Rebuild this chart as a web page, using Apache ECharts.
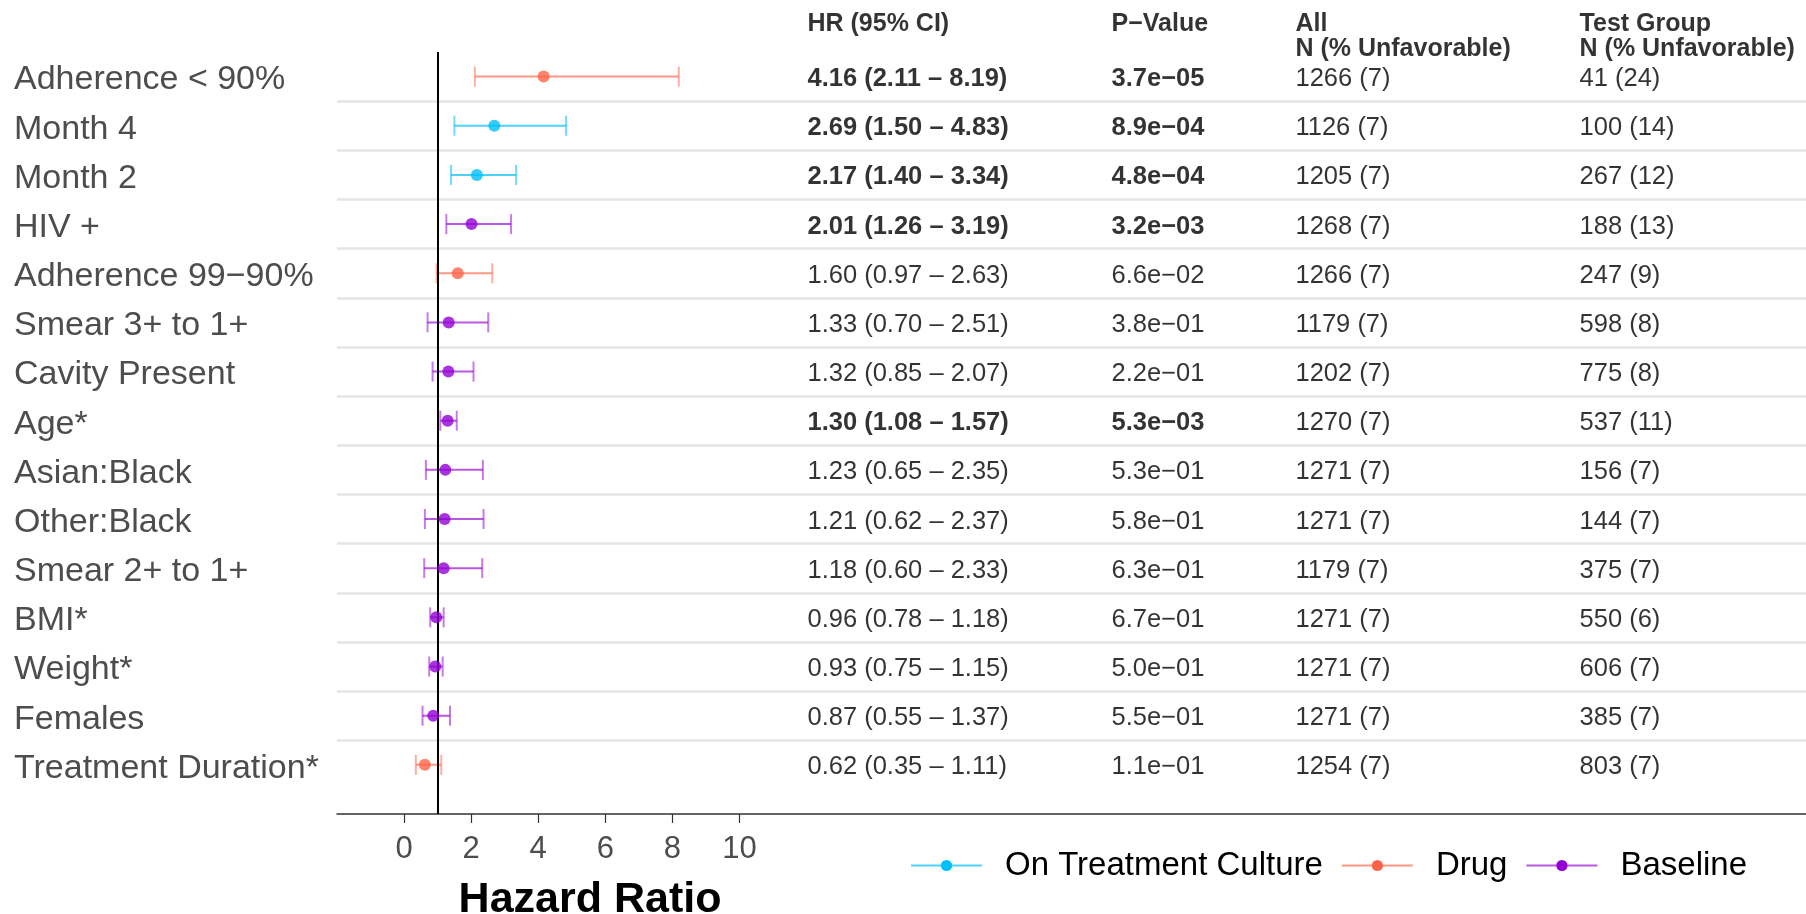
<!DOCTYPE html>
<html>
<head>
<meta charset="utf-8">
<script src="https://cdn.jsdelivr.net/npm/echarts@6/dist/echarts.min.js"></script>
<style>
  html, body { margin: 0; padding: 0; background: #fff; }
  #chart { width: 1806px; height: 914px; }
</style>
</head>
<body>
<div id="chart"></div>
<script>
// Forest plot rows, top to bottom
const rowLabels = ['Adherence < 90%', 'Month 4', 'Month 2', 'HIV +', 'Adherence 99\u221290%',
  'Smear 3+ to 1+', 'Cavity Present', 'Age*', 'Asian:Black', 'Other:Black',
  'Smear 2+ to 1+', 'BMI*', 'Weight*', 'Females', 'Treatment Duration*'];
const rowGroups = ['Drug', 'On Treatment Culture', 'On Treatment Culture', 'Baseline', 'Drug',
  'Baseline', 'Baseline', 'Baseline', 'Baseline', 'Baseline',
  'Baseline', 'Baseline', 'Baseline', 'Baseline', 'Drug'];
const hazardRatio = [4.16, 2.69, 2.17, 2.01, 1.60, 1.33, 1.32, 1.30, 1.23, 1.21, 1.18, 0.96, 0.93, 0.87, 0.62];
const ciLower     = [2.11, 1.50, 1.40, 1.26, 0.97, 0.70, 0.85, 1.08, 0.65, 0.62, 0.60, 0.78, 0.75, 0.55, 0.35];
const ciUpper     = [8.19, 4.83, 3.34, 3.19, 2.63, 2.51, 2.07, 1.57, 2.35, 2.37, 2.33, 1.18, 1.15, 1.37, 1.11];
const pValues = ['3.7e\u221205', '8.9e\u221204', '4.8e\u221204', '3.2e\u221203', '6.6e\u221202',
  '3.8e\u221201', '2.2e\u221201', '5.3e\u221203', '5.3e\u221201', '5.8e\u221201',
  '6.3e\u221201', '6.7e\u221201', '5.0e\u221201', '5.5e\u221201', '1.1e\u221201'];
const nAll = ['1266 (7)', '1126 (7)', '1205 (7)', '1268 (7)', '1266 (7)', '1179 (7)', '1202 (7)', '1270 (7)',
  '1271 (7)', '1271 (7)', '1179 (7)', '1271 (7)', '1271 (7)', '1271 (7)', '1254 (7)'];
const nTestGroup = ['41 (24)', '100 (14)', '267 (12)', '188 (13)', '247 (9)', '598 (8)', '775 (8)', '537 (11)',
  '156 (7)', '144 (7)', '375 (7)', '550 (6)', '606 (7)', '385 (7)', '803 (7)'];
const groupNames = ['On Treatment Culture', 'Drug', 'Baseline'];
const xTicks = [0, 2, 4, 6, 8, 10];
const tableHeaders = ['HR (95% CI)', 'P\u2212Value', 'All\nN (% Unfavorable)', 'Test Group\nN (% Unfavorable)'];

// Styling
const FONT = '"Liberation Sans", Arial, Helvetica, sans-serif';
const groupStyle = {
  'On Treatment Culture': { dot: '#00BFFF', line: 'rgba(0,191,255,0.7)' },
  'Drug':                 { dot: '#FF6347', line: 'rgba(255,99,71,0.65)' },
  'Baseline':             { dot: '#9400D3', line: 'rgba(148,0,211,0.65)' }
};
// Horizontal placement of the table columns, in percent of the panel width
const tableColumnPos = [32.06, 52.76, 65.28, 84.62];

const nRows = rowLabels.length;
const rowY = i => nRows - i;
const pNum = s => parseFloat(s.replace('\u2212', '-'));
const fmt = v => v.toFixed(2);

const hrText = hazardRatio.map((v, i) => `${fmt(v)} (${fmt(ciLower[i])} \u2013 ${fmt(ciUpper[i])})`);
const tableColumns = [hrText, pValues, nAll, nTestGroup];
const boldCols = [true, true, false, false];

const series = [];

// Row separators and the reference line at HR = 1
series.push({
  type: 'line', data: [], z: 1, silent: true,
  markLine: {
    silent: true, symbol: 'none', animation: false,
    label: { show: false },
    lineStyle: { color: '#e5e5e5', width: 2.5, type: 'solid' },
    data: rowLabels.slice(1).map((_, k) => ({ yAxis: k + 1.5 }))
  }
});
series.push({
  type: 'line', data: [], z: 3, silent: true,
  markLine: {
    silent: true, symbol: 'none', animation: false,
    label: { show: false },
    lineStyle: { color: '#000', width: 2, type: 'solid' },
    data: [{ xAxis: 1 }]
  }
});

groupNames.forEach(g => {
  const idx = rowGroups.map((r, i) => r === g ? i : -1).filter(i => i >= 0);
  const st = groupStyle[g];
  // confidence-interval segments
  const seg = [];
  idx.forEach(i => { seg.push([ciLower[i], rowY(i)], [ciUpper[i], rowY(i)], '-'); });
  series.push({
    name: g, type: 'line', data: seg, connectNulls: false,
    showSymbol: false, symbol: 'circle', z: 4,
    lineStyle: { color: st.line, width: 2 },
    itemStyle: { color: st.dot },
    emphasis: { disabled: true }
  });
  // whisker caps
  const caps = [];
  idx.forEach(i => { caps.push([ciLower[i], rowY(i)], [ciUpper[i], rowY(i)]); });
  series.push({
    name: g + ' caps', type: 'scatter', data: caps, symbol: 'rect', symbolSize: [2, 20],
    itemStyle: { color: st.line }, z: 4, silent: true
  });
  // point estimates
  series.push({
    name: g + ' estimate', type: 'scatter', data: idx.map(i => [hazardRatio[i], rowY(i)]),
    symbol: 'circle', symbolSize: 12, itemStyle: { color: st.dot }, z: 5, silent: true
  });
});

// Table columns
tableColumns.forEach((col, c) => {
  series.push({
    type: 'scatter', xAxisIndex: 1, silent: true, symbolSize: 1,
    itemStyle: { color: 'transparent' }, z: 6, clip: false,
    data: col.map((_, i) => ({
      value: [tableColumnPos[c], rowY(i)],
      label: { fontWeight: (boldCols[c] && pNum(pValues[i]) < 0.05) ? 'bold' : 'normal' }
    })),
    label: {
      show: true, position: [0, 0], align: 'left', verticalAlign: 'middle', offset: [0, 3],
      fontFamily: FONT, fontSize: 25.5, color: '#000',
      formatter: p => col[p.dataIndex]
    }
  });
});

// Table headers
series.push({
  type: 'scatter', xAxisIndex: 1, silent: true, symbolSize: 1,
  itemStyle: { color: 'transparent' }, z: 6, clip: false,
  data: tableHeaders.map((_, c) => [tableColumnPos[c], nRows + 0.5]),
  label: {
    show: true, position: [0, 0], align: 'left', verticalAlign: 'top',
    offset: [0, -40], lineHeight: 25,
    fontFamily: FONT, fontSize: 25, fontWeight: 'bold', color: '#000',
    formatter: p => tableHeaders[p.dataIndex]
  }
});

const chart = echarts.init(document.getElementById('chart'), null, { renderer: 'canvas' });
chart.setOption({
  animation: false,
  backgroundColor: '#fff',
  textStyle: { fontFamily: FONT },
  grid: { left: 337, right: 0, top: 52, bottom: 100, containLabel: false, outerBoundsMode: 'none' },
  legend: {
    data: groupNames, left: 910, top: 849, padding: 0,
    itemWidth: 71, itemHeight: 14, itemGap: 18,
    selectedMode: false,
    textStyle: { fontFamily: FONT, fontSize: 33, color: '#000', padding: [0, 0, 0, 18] }
  },
  xAxis: [
    {
      type: 'value', min: -2, max: 41.8, interval: 2,
      axisLine: { show: true, lineStyle: { color: '#333', width: 1.5 } },
      axisTick: { show: true, customValues: xTicks, length: 9, lineStyle: { color: '#333', width: 1.2 } },
      axisLabel: { customValues: xTicks, fontFamily: FONT, fontSize: 31, color: '#4d4d4d', margin: 20 },
      splitLine: { show: false }
    },
    { type: 'value', min: 0, max: 100, show: false, gridIndex: 0 }
  ],
  yAxis: {
    type: 'value', min: 0, max: nRows + 0.5,
    axisLine: { show: false }, axisTick: { show: false }, splitLine: { show: false },
    axisLabel: {
      customValues: rowLabels.map((_, i) => rowY(i)),
      formatter: v => rowLabels[nRows - v] ? '{row|' + rowLabels[nRows - v] + '}' : '',
      align: 'left', margin: 323,
      rich: {
        row: { fontFamily: FONT, fontSize: 34, color: '#4d4d4d', padding: [7, 0, 0, 0] }
      }
    }
  },
  graphic: [{
    type: 'text', x: 590, y: 900, silent: true,
    style: { text: 'Hazard Ratio', font: 'bold 43px ' + FONT, fill: '#000', align: 'center', verticalAlign: 'middle' }
  }],
  series: series
});
</script>
</body>
</html>
